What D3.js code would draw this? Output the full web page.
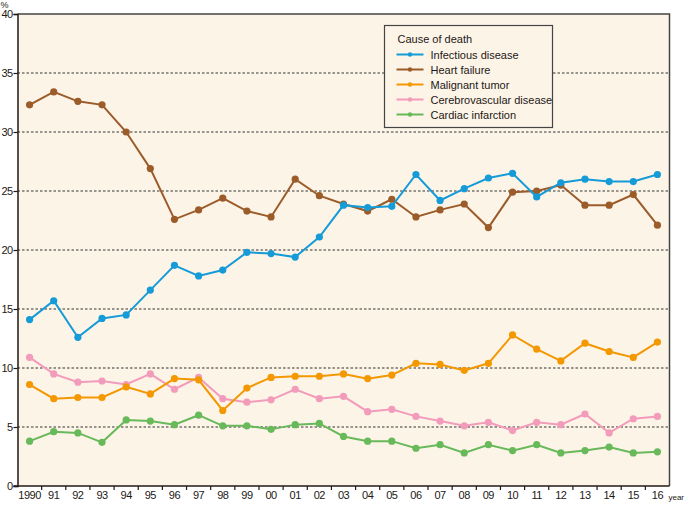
<!DOCTYPE html>
<html>
<head>
<meta charset="utf-8">
<script src="https://cdn.jsdelivr.net/npm/d3@7"></script>
<style>
  body { margin: 0; background: #fff; }
  text { font-family: 'Liberation Sans', Arial, sans-serif; fill: #231815; }
</style>
</head>
<body>
<svg id="chart" width="685" height="505"></svg>
<script>
// years on the x axis (labels as printed)
const years = ['1990', '91', '92', '93', '94', '95', '96', '97', '98', '99', '00', '01', '02', '03',
               '04', '05', '06', '07', '08', '09', '10', '11', '12', '13', '14', '15', '16'];

const infectious = [14.1, 15.7, 12.6, 14.2, 14.5, 16.6, 18.7, 17.8, 18.3, 19.8, 19.7, 19.4, 21.1, 23.8,
                    23.6, 23.7, 26.4, 24.2, 25.2, 26.1, 26.5, 24.5, 25.7, 26.0, 25.8, 25.8, 26.4];
const heartFailure = [32.3, 33.4, 32.6, 32.3, 30.0, 26.9, 22.6, 23.4, 24.4, 23.3, 22.8, 26.0, 24.6, 23.9,
                      23.3, 24.3, 22.8, 23.4, 23.9, 21.9, 24.9, 25.0, 25.5, 23.8, 23.8, 24.7, 22.1];
const malignant = [8.6, 7.4, 7.5, 7.5, 8.4, 7.8, 9.1, 9.0, 6.4, 8.3, 9.2, 9.3, 9.3, 9.5,
                   9.1, 9.4, 10.4, 10.3, 9.8, 10.4, 12.8, 11.6, 10.6, 12.1, 11.4, 10.9, 12.2];
const cerebro = [10.9, 9.5, 8.8, 8.9, 8.6, 9.5, 8.2, 9.2, 7.4, 7.1, 7.3, 8.2, 7.4, 7.6,
                 6.3, 6.5, 5.9, 5.5, 5.1, 5.4, 4.7, 5.4, 5.2, 6.1, 4.5, 5.7, 5.9];
const cardiac = [3.8, 4.6, 4.5, 3.7, 5.6, 5.5, 5.2, 6.0, 5.1, 5.1, 4.8, 5.2, 5.3, 4.2,
                 3.8, 3.8, 3.2, 3.5, 2.8, 3.5, 3.0, 3.5, 2.8, 3.0, 3.3, 2.8, 2.9];

const yTicks = [0, 5, 10, 15, 20, 25, 30, 35, 40];

const series = [
  { name: 'Infectious disease', values: infectious, color: '#159bd7' },
  { name: 'Heart failure', values: heartFailure, color: '#9b5c2a' },
  { name: 'Malignant tumor', values: malignant, color: '#f39800' },
  { name: 'Cerebrovascular disease', values: cerebro, color: '#f29bba' },
  { name: 'Cardiac infarction', values: cardiac, color: '#68b95a' }
];

const svg = d3.select('#chart');
const plotLeft = 17.5, plotRight = 669.5, plotTop = 14, plotBottom = 486;

const x = d3.scaleBand().domain(years).range([plotLeft, plotRight]);
const y = d3.scaleLinear().domain([0, 40]).range([plotBottom, plotTop]);

// plot background
svg.append('rect')
  .attr('x', plotLeft).attr('y', plotTop)
  .attr('width', plotRight - plotLeft).attr('height', plotBottom - plotTop)
  .attr('fill', '#fdf4e8');

// dashed grid lines
svg.append('g')
  .selectAll('line')
  .data(yTicks.filter(d => d > 0 && d < 40))
  .enter().append('line')
  .attr('x1', plotLeft).attr('x2', plotRight)
  .attr('y1', d => y(d)).attr('y2', d => y(d))
  .attr('stroke', '#333')
  .attr('stroke-width', 1.2)
  .attr('stroke-dasharray', '2.5,2');

// top and right border
svg.append('path')
  .attr('d', 'M' + plotLeft + ',' + y(40) + 'H' + plotRight + 'V' + plotBottom)
  .attr('fill', 'none')
  .attr('stroke', '#444')
  .attr('stroke-width', 1.5);

// y axis
const yAxis = svg.append('g')
  .attr('transform', 'translate(' + plotLeft + ',0)')
  .call(d3.axisLeft(y).tickValues(yTicks).tickSize(4).tickPadding(1));
yAxis.select('.domain').attr('stroke', '#231815').attr('stroke-width', 1.5);
yAxis.selectAll('.tick line').attr('stroke', '#231815').attr('stroke-width', 1.2);
yAxis.selectAll('.tick text')
  .style('font-size', '11px')
  .style('letter-spacing', '-0.6px')
  .attr('fill', '#231815');

// x axis: ticks on band boundaries
const xAxis = svg.append('g')
  .attr('transform', 'translate(0,' + plotBottom + ')');
xAxis.append('line')
  .attr('x1', plotLeft - 4).attr('x2', plotRight)
  .attr('stroke', '#231815').attr('stroke-width', 1.5);
xAxis.selectAll('.tk')
  .data(years.slice(1))
  .enter().append('line')
  .attr('class', 'tk')
  .attr('x1', d => x(d)).attr('x2', d => x(d))
  .attr('y1', 0).attr('y2', 4)
  .attr('stroke', '#231815').attr('stroke-width', 1.2);
xAxis.selectAll('text')
  .data(years)
  .enter().append('text')
  .attr('x', d => x(d) + x.bandwidth() / 2)
  .attr('y', 13)
  .attr('text-anchor', 'middle')
  .style('font-size', '11px')
  .style('letter-spacing', '-0.5px')
  .text(d => d);

svg.append('text').attr('x', 684).attr('y', 500)
  .attr('text-anchor', 'end')
  .style('font-size', '8px').text('year');
svg.append('text').attr('x', 0.5).attr('y', 7.5)
  .style('font-size', '9px').text('%');

// lines and markers
const line = d3.line()
  .x((d, i) => x(years[i]) + x.bandwidth() / 2)
  .y(d => y(d));

const sg = svg.append('g')
  .selectAll('g')
  .data(series.slice().reverse())
  .enter().append('g');

sg.append('path')
  .attr('d', d => line(d.values))
  .attr('fill', 'none')
  .attr('stroke', d => d.color)
  .attr('stroke-width', 2);

sg.each(function(s) {
  d3.select(this).selectAll('circle')
    .data(s.values)
    .enter().append('circle')
    .attr('cx', (d, i) => x(years[i]) + x.bandwidth() / 2)
    .attr('cy', d => y(d))
    .attr('r', 3.6)
    .attr('fill', s.color);
});

// legend
const lg = svg.append('g').attr('transform', 'translate(384.5,25.5)');
lg.append('rect')
  .attr('width', 168).attr('height', 102)
  .attr('fill', '#fdf4e8')
  .attr('stroke', '#444').attr('stroke-width', 1.2);
lg.append('text').attr('x', 13).attr('y', 17).style('font-size', '11px').text('Cause of death');

const item = lg.selectAll('.item')
  .data(series)
  .enter().append('g')
  .attr('class', 'item')
  .attr('transform', (d, i) => 'translate(0,' + (29 + i * 15) + ')');
item.append('line')
  .attr('x1', 12).attr('x2', 39)
  .attr('stroke', d => d.color).attr('stroke-width', 2);
item.append('circle')
  .attr('cx', 25.5).attr('r', 2.2)
  .attr('fill', d => d.color);
item.append('text')
  .attr('x', 46).attr('y', 4)
  .style('font-size', '11px')
  .text(d => d.name);
</script>
</body>
</html>
